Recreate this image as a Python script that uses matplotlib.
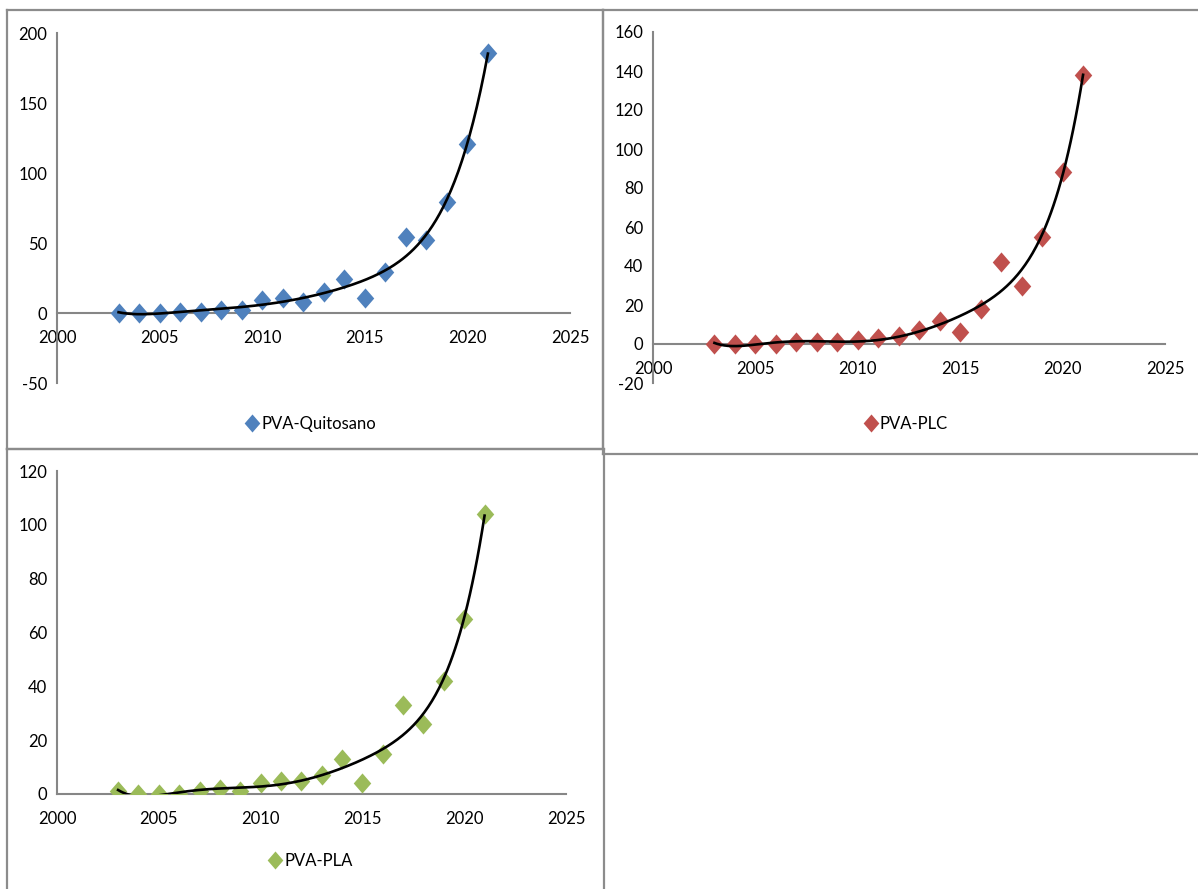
import numpy as np
import matplotlib.pyplot as plt
from matplotlib.lines import Line2D

years = list(range(2003, 2022))

quitosano = [0, 0, 0, 1, 1, 2, 2, 9, 11, 8, 15, 24, 11, 29, 54, 52, 79, 121, 186]
plc = [0, 0, 0, 0, 1, 1, 1, 2, 3, 4, 7, 12, 6, 18, 42, 30, 55, 88, 138]
pla = [1, 0, 0, 0, 1, 2, 1, 4, 5, 5, 7, 13, 4, 15, 33, 26, 42, 65, 104]

names = ["PVA-Quitosano", "PVA-PLC", "PVA-PLA"]
colors = ["#4F81BD", "#C0504D", "#9BBB59"]

plt.rcParams["font.family"] = ["Lato", "DejaVu Sans"]
plt.rcParams["axes.unicode_minus"] = False

# slightly tall diamond, like the spreadsheet marker
DIAMOND = [(0, 1.15), (1, 0), (0, -1.15), (-1, 0), (0, 1.15)]

W, H = 1198, 889
fig = plt.figure(figsize=(W / 100, H / 100), dpi=100)


def px_axes(left, right, top, bottom):
    return fig.add_axes([left / W, 1 - bottom / H, (right - left) / W, (bottom - top) / H])


def frame(x0, y0, x1, y1):
    kw = dict(color="#8c8c8c", lw=1.6, transform=fig.transFigure)
    fig.add_artist(Line2D([x0 / W, x1 / W], [1 - y0 / H, 1 - y0 / H], **kw))
    fig.add_artist(Line2D([x0 / W, x1 / W], [1 - y1 / H, 1 - y1 / H], **kw))
    fig.add_artist(Line2D([x0 / W, x0 / W], [1 - y0 / H, 1 - y1 / H], **kw))
    fig.add_artist(Line2D([x1 / W, x1 / W], [1 - y0 / H, 1 - y1 / H], **kw))


def draw(ax, values, color, label, ylim, step, legend_xy):
    x = np.array(years, dtype=float)
    y = np.array(values, dtype=float)
    ax.plot(x, y, linestyle="none", marker=DIAMOND, markersize=14.5, color=color,
            markeredgewidth=0, label=label, zorder=3)
    # polynomial trend line (order 6)
    coef = np.polyfit(x - 2003, y, 6)
    xs = np.linspace(2003, 2021, 300)
    ax.plot(xs, np.polyval(coef, xs - 2003), color="black", lw=1.9, zorder=4)

    ax.set_xlim(2000, 2025)
    ax.set_ylim(*ylim)
    ax.set_xticks(range(2000, 2026, 5))
    ax.set_yticks(np.arange(ylim[0], ylim[1] + 1, step))
    for s in ("top", "right"):
        ax.spines[s].set_visible(False)
    ax.spines["bottom"].set_position(("data", 0))
    for s in ("left", "bottom"):
        ax.spines[s].set_color("#868686")
        ax.spines[s].set_linewidth(1.5)
    ax.tick_params(length=0, labelsize=12, colors="black")
    ax.tick_params(axis="y", pad=7)
    ax.tick_params(axis="x", pad=12)
    ax.patch.set_alpha(0)

    handle = Line2D([], [], linestyle="none", marker=DIAMOND, markersize=13,
                    markeredgewidth=0, color=color)
    fig.legend([handle], [label], loc="center", frameon=False, fontsize=12,
               bbox_to_anchor=(legend_xy[0] / W, 1 - legend_xy[1] / H),
               handletextpad=0.05, handlelength=1.0)


frame(7, 10, 603, 449)
frame(603, 10, 1210, 454)
frame(7, 449, 604, 900)

ax1 = px_axes(57, 570, 33, 383)
draw(ax1, quitosano, colors[0], names[0], (-50, 200), 50, (310, 424))

ax2 = px_axes(653, 1165, 32, 383)
draw(ax2, plc, colors[1], names[1], (-20, 160), 20, (905, 424))

ax3 = px_axes(57, 566, 471, 794)
draw(ax3, pla, colors[2], names[2], (0, 120), 20, (310, 861))

fig.savefig("out.png", dpi=100)
